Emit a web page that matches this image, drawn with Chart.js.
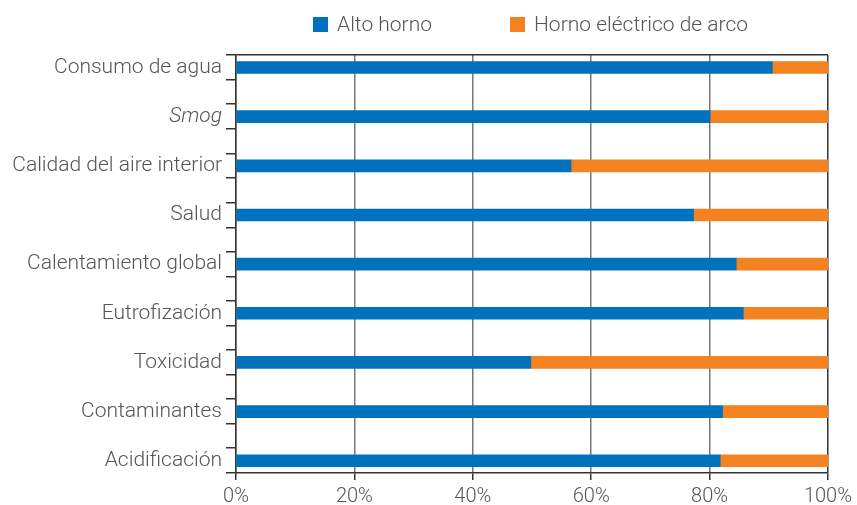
<!DOCTYPE html>
<html>
<head>
<meta charset="utf-8">
<script src="https://cdn.jsdelivr.net/npm/chart.js@4"></script>
<style>
  body { margin: 0; background: #fff; }
  #wrap { position: relative; width: 857px; height: 505px; }
  #legend { position: absolute; top: 11px; left: 0; width: 857px; height: 26px; font-family: Roboto, sans-serif; font-weight: 300; font-size: 21px; color: #555; }
  .item { position: absolute; top: 0; line-height: 26px; white-space: nowrap; }
  .box { display: inline-block; width: 15px; height: 15px; vertical-align: -1px; margin-right: 9px; }
</style>
</head>
<body>
<div id="wrap">
  <canvas id="chart" width="857" height="505"></canvas>
  <div id="legend"></div>
</div>
<script>
const categories = ['Consumo de agua', 'Smog', 'Calidad del aire interior', 'Salud',
  'Calentamiento global', 'Eutrofización', 'Toxicidad', 'Contaminantes', 'Acidificación'];
const seriesNames = ['Alto horno', 'Horno eléctrico de arco'];
const altoHorno = [90.6, 80.1, 56.6, 77.3, 84.5, 85.7, 49.8, 82.2, 81.8];
const hornoElectrico = [9.4, 19.9, 43.4, 22.7, 15.5, 14.3, 50.2, 17.8, 18.2];
const xTicks = [0, 20, 40, 60, 80, 100];
const colors = ['#0071BC', '#F58220'];

// y is a linear index axis so the small separator ticks can sit between rows
const yMin = -0.255, yMax = 8.25;

document.addEventListener('DOMContentLoaded', function() {
  const legend = document.getElementById('legend');
  const legendLeft = [313, 510];
  seriesNames.forEach((name, i) => {
    const el = document.createElement('div');
    el.className = 'item';
    el.style.left = legendLeft[i] + 'px';
    el.innerHTML = '<span class="box" style="background:' + colors[i] + '"></span>' + name;
    legend.appendChild(el);
  });

  const toPoints = arr => arr.map((v, i) => ({ x: v, y: i }));

  new Chart(document.getElementById('chart'), {
    type: 'bar',
    data: {
      datasets: [
        { label: seriesNames[0], data: toPoints(altoHorno), backgroundColor: colors[0], barThickness: 12 },
        { label: seriesNames[1], data: toPoints(hornoElectrico), backgroundColor: colors[1], barThickness: 12 }
      ]
    },
    options: {
      indexAxis: 'y',
      responsive: false,
      animation: false,
      layout: { padding: { top: 55, right: 27, bottom: 0, left: 0 } },
      plugins: { legend: { display: false }, tooltip: { enabled: false } },
      scales: {
        x: {
          type: 'linear',
          stacked: true,
          min: 0,
          max: 100,
          afterBuildTicks: s => { s.ticks = xTicks.map(v => ({ value: v })); },
          afterFit: s => { s.height = 32; },
          ticks: {
            callback: v => v + '%',
            color: '#555',
            padding: 5,
            font: { family: 'Roboto', weight: 300, size: 20 }
          },
          grid: {
            color: ctx => ctx.tick && ctx.tick.value === 100 ? '#333' : '#777',
            lineWidth: 1.5,
            tickColor: '#333',
            tickLength: 7
          },
          border: { color: '#333', width: 1.5 }
        },
        y: {
          type: 'linear',
          stacked: true,
          reverse: true,
          offset: false,
          min: yMin,
          max: yMax,
          afterBuildTicks: s => {
            const t = [];
            categories.forEach((c, i) => {
              t.push({ value: i === 0 ? yMin : i - 0.255 });
              t.push({ value: i });
              t.push({ value: i + 0.25 });
            });
            s.ticks = t;
          },
          afterFit: s => { s.width = 236; s.paddingTop = 0; s.paddingBottom = 0; },
          ticks: {
            autoSkip: false,
            callback: v => Number.isInteger(v) ? categories[v] : '',
            color: '#555',
            padding: 4,
            font: ctx => ({ family: 'Roboto', weight: 300, size: 21, style: ctx.tick && ctx.tick.value === 1 ? 'italic' : 'normal' })
          },
          grid: {
            offset: false,
            drawOnChartArea: true,
            color: ctx => ctx.tick && ctx.tick.value === yMin ? '#333' : 'rgba(0,0,0,0)',
            tickColor: ctx => ctx.tick && Number.isInteger(ctx.tick.value) ? 'rgba(0,0,0,0)' : '#333',
            lineWidth: 1.5,
            tickLength: 10
          },
          border: { color: '#333', width: 1.5 }
        }
      }
    }
  });
});
</script>
</body>
</html>
